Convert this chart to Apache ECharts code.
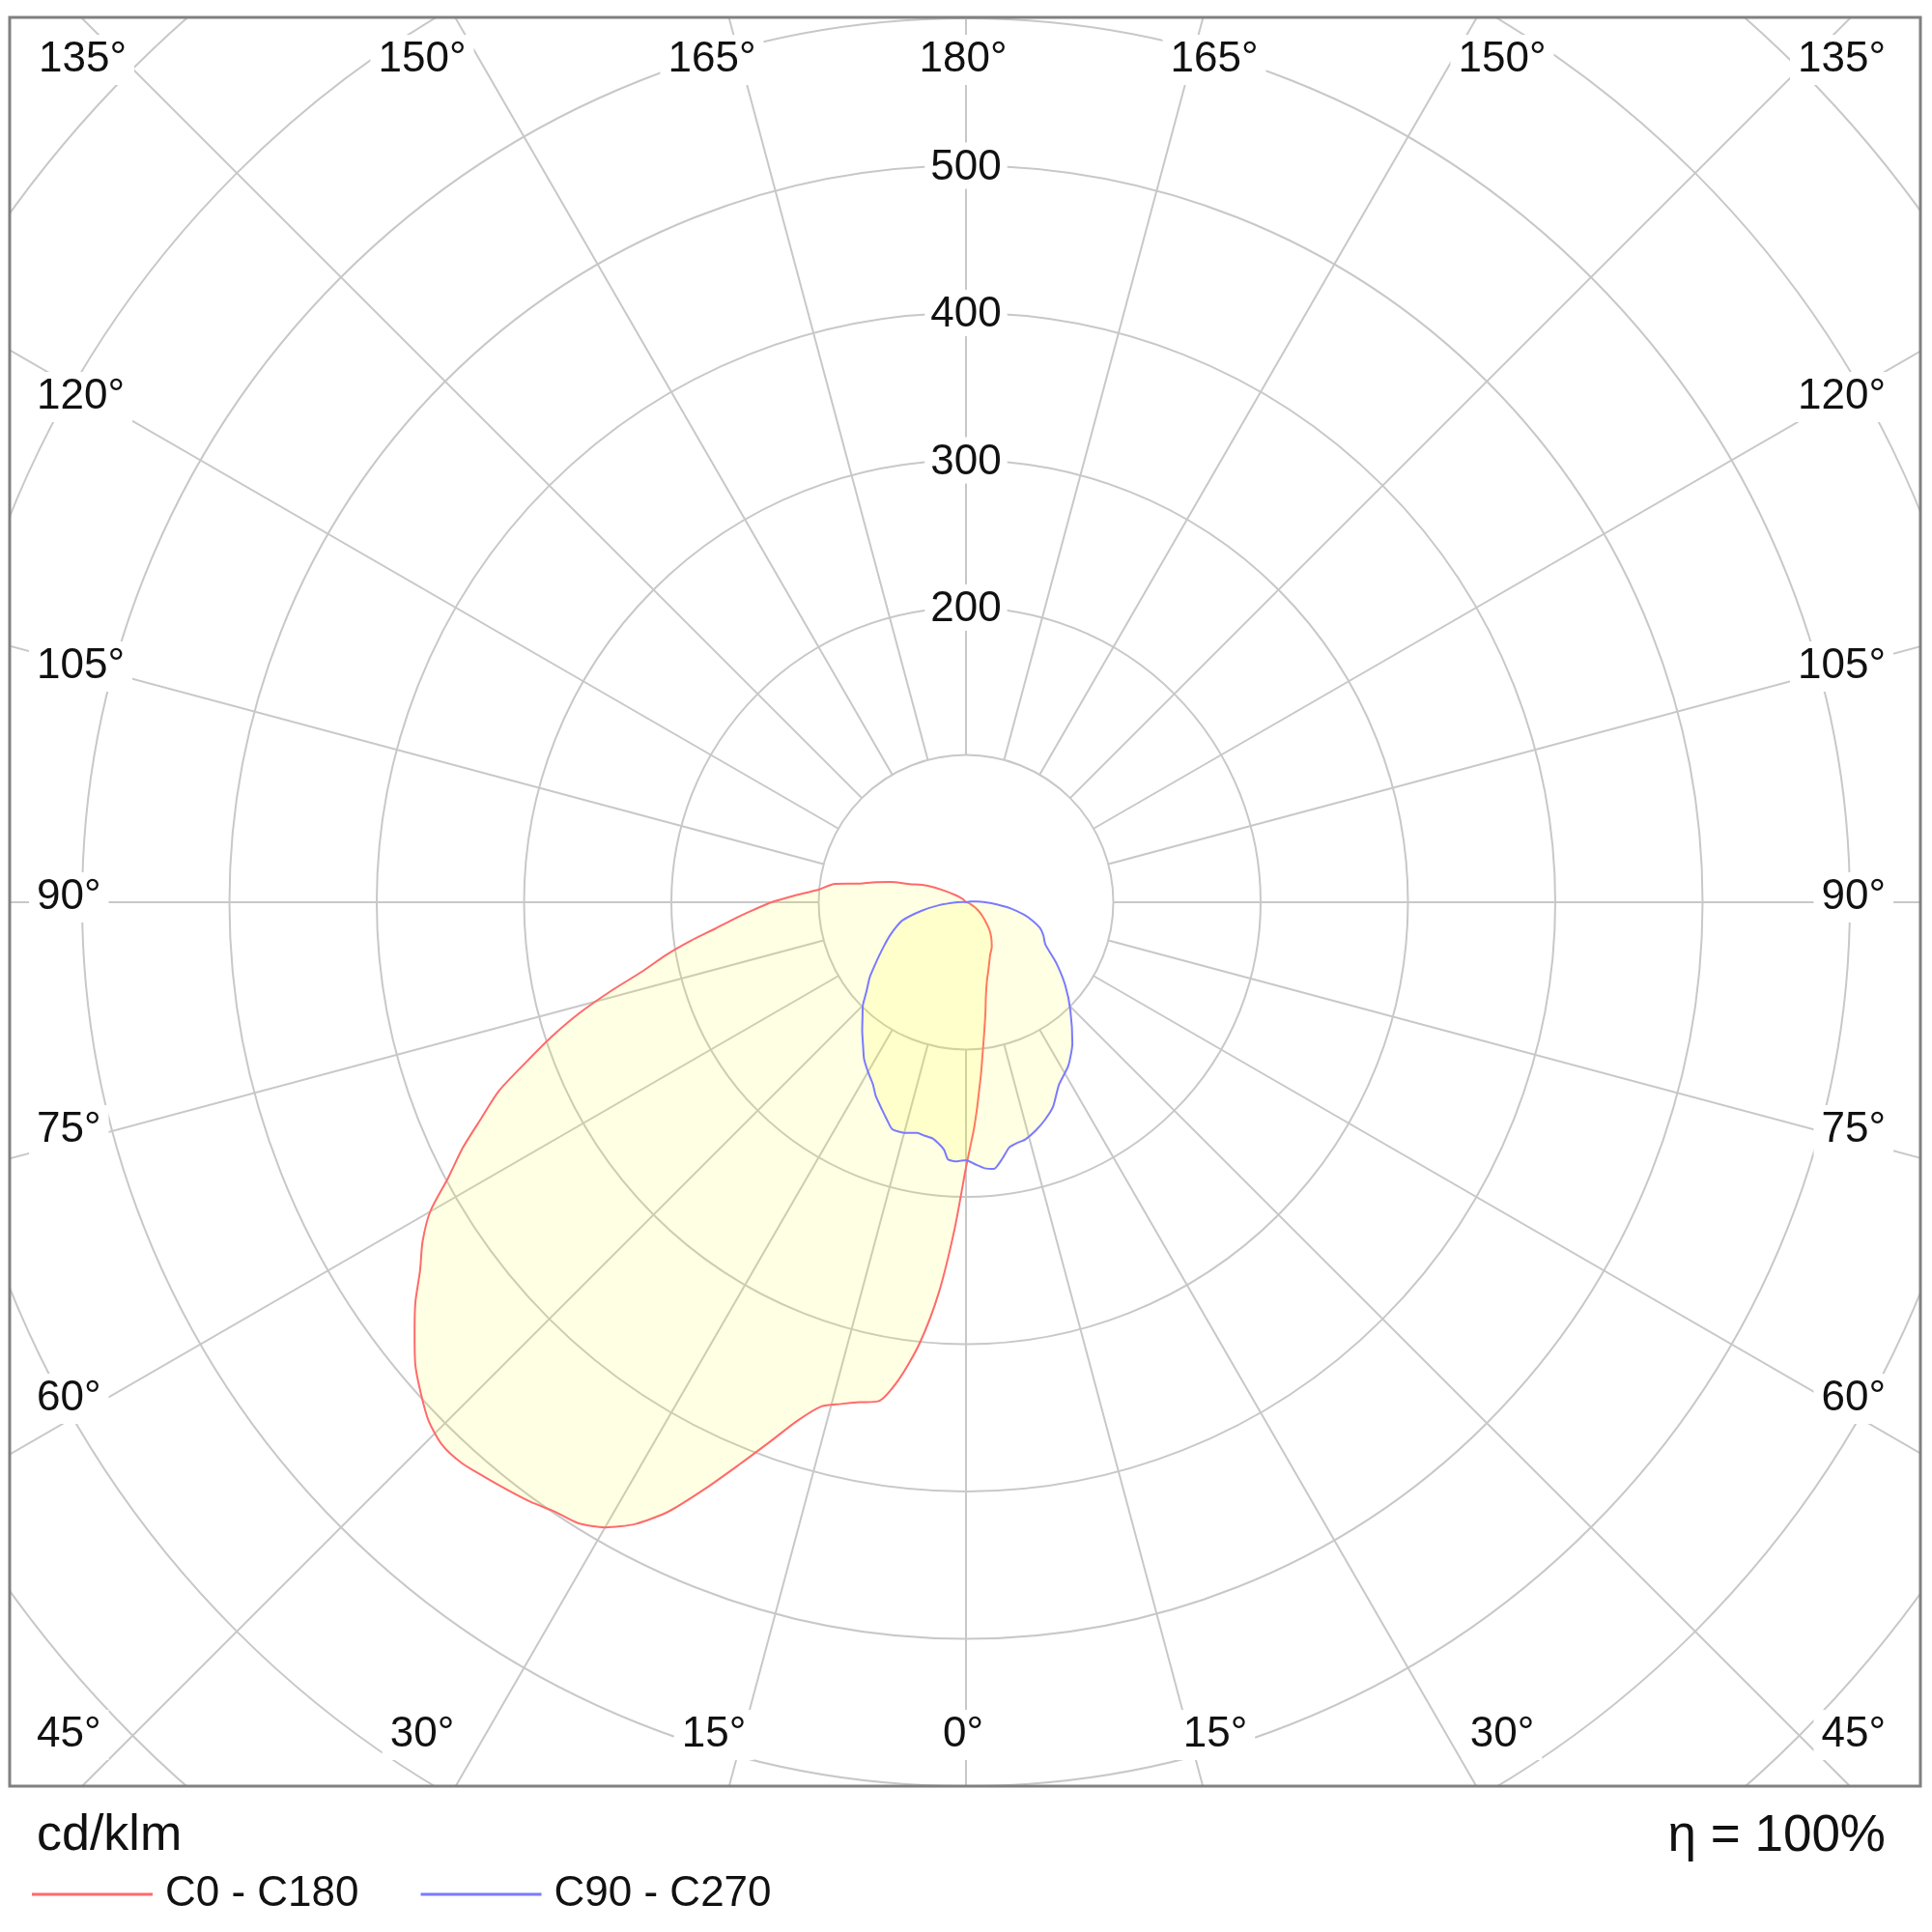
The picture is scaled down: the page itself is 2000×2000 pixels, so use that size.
<!DOCTYPE html>
<html>
<head>
<meta charset="utf-8">
<title>Luminous intensity distribution</title>
<script src="https://cdn.jsdelivr.net/npm/echarts@6/dist/echarts.min.js"></script>
<style>
  html, body { margin: 0; padding: 0; background: #fff; }
  #chart { width: 2000px; height: 2000px; }
</style>
</head>
<body>
<div id="chart"></div>
<script>
// Intensities in cd/klm, gamma measured from nadir (0 = straight down)

// C0 - C180 plane (red), right half of the diagram
const redRightGamma = [0, 1, 2, 3, 4, 5, 6, 8, 10, 12, 15, 18, 21, 25, 30, 35, 40, 45, 50, 55, 60, 70, 80, 90, 180];
const redRightValue = [180, 166, 154, 141, 128, 117, 106, 89, 76, 65, 55, 49, 44, 39, 35, 30, 25, 19, 14.5, 10.6, 7, 3, 1, 0, 0];

// C0 - C180 plane (red), left half
const redLeftGamma = [0, 2, 4, 6, 8, 10, 12, 14, 16, 18, 20, 22, 24, 26, 28, 30, 32, 34, 36, 38, 40, 42, 44, 46, 48, 50,
  52, 54, 56, 58, 60, 62, 64, 66, 68, 70, 72, 74, 76, 78, 80, 82, 84, 86, 88, 90, 92, 95, 98, 100, 102, 105, 108, 113, 118,
  125, 135, 150, 180];
const redLeftValue = [180, 222, 266, 301, 327, 344, 347, 351, 356, 370, 390, 412, 436, 460, 478, 490, 497, 499, 503, 506, 509, 512, 512, 507, 498, 488,
  475, 462, 447, 435, 420, 398, 380, 360, 342, 318, 296, 273, 248, 224, 207, 189, 171, 157, 144, 132, 118, 100, 90, 73, 65, 53, 40, 29, 17,
  8, 3, 0, 0];

// C90 - C270 plane (blue), right half
const blueRightGamma = [0, 2, 4, 6, 8, 10, 12, 14, 17, 20, 23, 27, 32, 37, 44, 50, 56, 62, 67, 71, 75, 78, 82, 86, 90, 94, 100, 110, 180];
const blueRightValue = [175, 178, 181, 182, 176, 169, 167, 166, 162, 157, 151, 139, 131, 120, 102, 88, 74, 61, 57, 53, 46, 40, 31, 21, 13, 7, 3, 0, 0];

// C90 - C270 plane (blue), left half
const blueLeftGamma = [0, 2, 4, 5, 6, 8, 10, 12, 15, 18, 20, 22, 25, 27, 30, 33, 36, 39, 42, 45, 48, 52, 55, 58, 62, 66, 70, 74, 79, 84, 90, 96, 105, 180];
const blueLeftValue = [175, 176, 175, 169, 166, 162, 161, 160, 162, 162, 157, 152, 145, 139, 133, 127, 119, 112, 105, 99, 91, 83, 76, 70, 63, 57, 51, 45, 31, 18, 6, 2, 0, 0];

// labelled rings
const ringLabels = [200, 300, 400, 500];

// angle labels round the frame
const topLabels = ['135°', '150°', '165°', '180°', '165°', '150°', '135°'];
const sideLabels = ['120°', '105°', '90°', '75°', '60°', '45°'];
const bottomLabels = ['30°', '15°', '0°', '15°', '30°'];

const seriesNames = ['C0 - C180', 'C90 - C270'];
const unitText = 'cd/klm';
const effText = 'η = 100%';

// ---- layout ----
const FONT = '"Liberation Sans", Arial, Helvetica, sans-serif';
const CX = 1000, CY = 934;          // centre of the diagram
const PX_PER_100 = 152.5;           // ring spacing
const BOX = { l: 10, t: 18, r: 1988, b: 1849 };
const PAD = 8;                      // white box round the angle labels

// join the two halves into one closed outline: right half top->bottom, then left half bottom->top
// polar angle 0 = up, clockwise, so right side = 180 - gamma, left side = 180 + gamma
function outline(rg, rv, lg, lv) {
  const pts = [];
  for (let i = rg.length - 1; i >= 0; i--) pts.push([rv[i], 180 - rg[i]]);
  for (let i = 1; i < lg.length; i++) pts.push([lv[i], 180 + lg[i]]);
  return pts;
}

function textEl(text, x, y, align, size) {
  return {
    type: 'text', x: x, y: y, z: 60, silent: true,
    style: {
      text: text, font: (size || 44) + 'px ' + FONT, fill: '#111',
      align: align, verticalAlign: 'middle',
      backgroundColor: '#fff', padding: [4, PAD]
    }
  };
}

const graphics = [
  // white masks outside the frame
  { type: 'rect', z: 50, silent: true, shape: { x: 0, y: 0, width: 2000, height: BOX.t }, style: { fill: '#fff' } },
  { type: 'rect', z: 50, silent: true, shape: { x: 0, y: 0, width: BOX.l, height: 2000 }, style: { fill: '#fff' } },
  { type: 'rect', z: 50, silent: true, shape: { x: BOX.r, y: 0, width: 2000 - BOX.r, height: 2000 }, style: { fill: '#fff' } },
  { type: 'rect', z: 50, silent: true, shape: { x: 0, y: BOX.b, width: 2000, height: 2000 - BOX.b }, style: { fill: '#fff' } },
  // frame
  { type: 'rect', z: 55, silent: true, shape: { x: BOX.l, y: BOX.t, width: BOX.r - BOX.l, height: BOX.b - BOX.t },
    style: { fill: 'none', stroke: '#808080', lineWidth: 3 } }
];

const leftX = 40 - PAD, rightX = 1952 + PAD;
// top row: corners flush to the frame, the rest centred near their spokes
const topX = [null, CX - 563, CX - 263, CX - 3, CX + 257, CX + 555, null];
topLabels.forEach((t, i) => {
  if (i === 0) graphics.push(textEl(t, leftX, 62, 'left'));
  else if (i === topLabels.length - 1) graphics.push(textEl(t, rightX, 62, 'right'));
  else graphics.push(textEl(t, topX[i], 62, 'center'));
});
const sideY = [411, 690, 929, 1170, 1448, 1796];
sideLabels.forEach((t, i) => {
  graphics.push(textEl(t, leftX - 2, sideY[i], 'left'));
  graphics.push(textEl(t, rightX, sideY[i], 'right'));
});
const bottomX = [CX - 563, CX - 261, CX - 3, CX + 258, CX + 555];
bottomLabels.forEach((t, i) => graphics.push(textEl(t, bottomX[i], 1796, 'center')));

// unit and efficiency under the frame
graphics.push({ type: 'text', x: 38, y: 1901, z: 60, silent: true,
  style: { text: unitText, font: '52px ' + FONT, fill: '#111', align: 'left', verticalAlign: 'middle' } });
graphics.push({ type: 'text', x: 1952, y: 1901, z: 60, silent: true,
  style: { text: effText, font: '53px ' + FONT, fill: '#111', align: 'right', verticalAlign: 'middle' } });

const outerR = 9 * PX_PER_100;   // ring 900, beyond the corners

const option = {
  animation: false,
  backgroundColor: '#fff',
  polar: [
    { center: [CX, CY], radius: [PX_PER_100, outerR] },   // grid: rings 100..900, spokes start at ring 100
    { center: [CX, CY], radius: [0, outerR] }             // data
  ],
  angleAxis: [
    {
      polarIndex: 0, type: 'value', min: 0, max: 360, interval: 15, startAngle: 90, clockwise: true,
      axisLine: { show: false }, axisTick: { show: false }, axisLabel: { show: false },
      splitLine: { show: true, lineStyle: { color: '#c8c8c8', width: 2 } }
    },
    {
      polarIndex: 1, type: 'value', min: 0, max: 360, startAngle: 90, clockwise: true,
      axisLine: { show: false }, axisTick: { show: false }, axisLabel: { show: false }, splitLine: { show: false }
    }
  ],
  radiusAxis: [
    {
      polarIndex: 0, type: 'value', min: 100, max: 900, interval: 100,
      axisLine: { show: false }, axisTick: { show: false },
      splitLine: { show: true, lineStyle: { color: '#c8c8c8', width: 2 } },
      axisLabel: {
        show: true, margin: 0, align: 'center', verticalAlign: 'middle',
        formatter: v => ringLabels.indexOf(v) >= 0 ? '{b|' + v + '}' : '',
        rich: { b: { fontSize: 44, fontFamily: FONT, color: '#111', backgroundColor: '#fff', padding: [4, 6, 0, 6] } }
      }
    },
    {
      polarIndex: 1, type: 'value', min: 0, max: 900,
      axisLine: { show: false }, axisTick: { show: false }, axisLabel: { show: false }, splitLine: { show: false }
    }
  ],
  legend: {
    z: 70, left: 28, top: 1934, icon: 'rect', itemWidth: 125, itemHeight: 3, itemGap: 64, selectedMode: false,
    textStyle: { fontSize: 44, fontFamily: FONT, color: '#111', padding: [0, 0, 0, 8] },
    data: seriesNames
  },
  series: [
    {
      name: seriesNames[0], type: 'line', coordinateSystem: 'polar', polarIndex: 1,
      data: outline(redRightGamma, redRightValue, redLeftGamma, redLeftValue),
      showSymbol: false, clip: false, z: 3, smooth: 0.25,
      itemStyle: { color: '#ff6a6a' },
      lineStyle: { color: '#ff6a6a', width: 2 },
      areaStyle: { color: 'rgba(255,255,0,0.15)' }
    },
    {
      name: seriesNames[1], type: 'line', coordinateSystem: 'polar', polarIndex: 1,
      data: outline(blueRightGamma, blueRightValue, blueLeftGamma, blueLeftValue),
      showSymbol: false, clip: false, z: 4, smooth: 0.2,
      itemStyle: { color: '#7a7aff' },
      lineStyle: { color: '#7a7aff', width: 2 },
      areaStyle: { color: 'rgba(255,255,0,0.15)' }
    }
  ],
  graphic: graphics
};

const chart = echarts.init(document.getElementById('chart'));
chart.setOption(option);
</script>
</body>
</html>
